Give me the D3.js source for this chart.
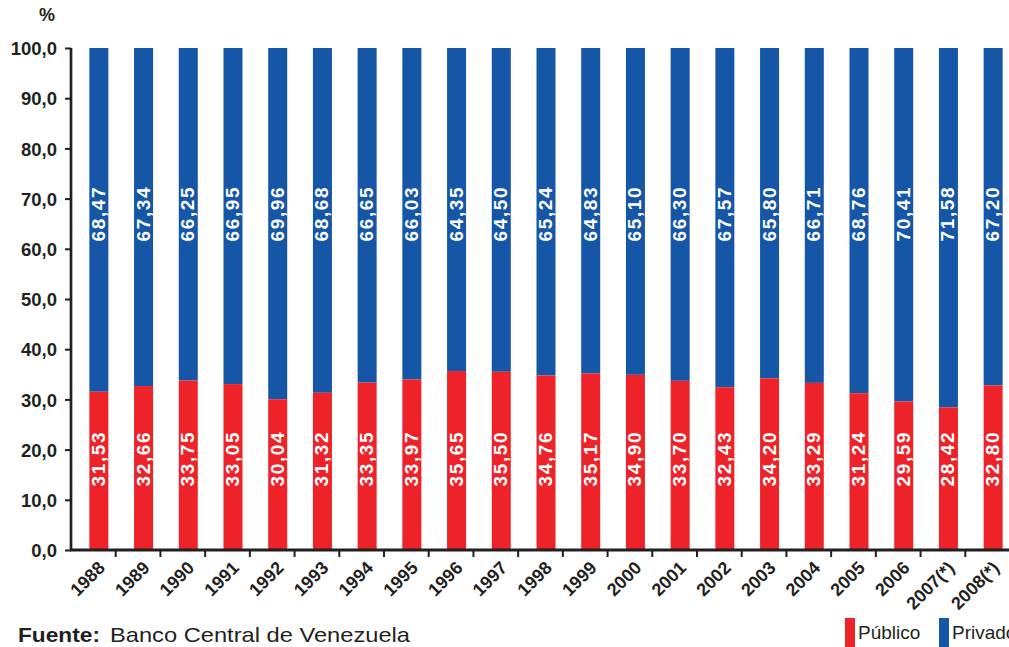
<!DOCTYPE html>
<html>
<head>
<meta charset="utf-8">
<script src="https://cdn.jsdelivr.net/npm/d3@7"></script>
<style>
  html, body { margin: 0; padding: 0; background: #fff; }
  svg { display: block; }
  text { font-family: "Liberation Sans", Arial, Helvetica, sans-serif; }
</style>
</head>
<body>
<svg id="chart" width="1009" height="647"></svg>
<script>
const years = ["1988","1989","1990","1991","1992","1993","1994","1995","1996","1997","1998","1999","2000","2001","2002","2003","2004","2005","2006","2007(*)","2008(*)"];
const publico = [31.53,32.66,33.75,33.05,30.04,31.32,33.35,33.97,35.65,35.50,34.76,35.17,34.90,33.70,32.43,34.20,33.29,31.24,29.59,28.42,32.80];
const privado = [68.47,67.34,66.25,66.95,69.96,68.68,66.65,66.03,64.35,64.50,65.24,64.83,65.10,66.30,67.57,65.80,66.71,68.76,70.41,71.58,67.20];
const yTicks = [0,10,20,30,40,50,60,70,80,90,100];
const seriesNames = ["Público","Privado"];
const colors = ["#ee2229","#1556a6"];

const svg = d3.select("#chart");
const axisColor = "#231f20";
const fmt = v => v.toFixed(2).replace(".", ",");
const fmtTick = v => v.toFixed(1).replace(".", ",");

const x = d3.scaleBand().domain(years).range([71, 1010]).padding(0);
const y = d3.scaleLinear().domain([0, 100]).range([550, 48]);

const barW = 19;
const barOffset = 5.5; // bars sit slightly right of band centre
const barX = d => x(d) + x.bandwidth() / 2 + barOffset - barW / 2;

const data = years.map((yr, i) => ({ yr, pub: publico[i], pri: privado[i] }));

// bars: Privado (blue) stacked on Público (red)
svg.append("g").selectAll("rect").data(data).join("rect")
  .attr("x", d => barX(d.yr)).attr("width", barW)
  .attr("y", d => y(d.pub + d.pri)).attr("height", d => y(d.pub) - y(d.pub + d.pri))
  .attr("fill", colors[1]);
svg.append("g").selectAll("rect").data(data).join("rect")
  .attr("x", d => barX(d.yr)).attr("width", barW)
  .attr("y", d => y(d.pub)).attr("height", d => y(0) - y(d.pub))
  .attr("fill", colors[0]);

// value labels inside bars
const labelStyle = sel => sel
  .attr("text-anchor", "middle").attr("dominant-baseline", "central")
  .attr("fill", "#fff").attr("font-weight", "bold")
  .attr("font-size", 19).attr("letter-spacing", 1.6);
svg.append("g").selectAll("text").data(data).join("text")
  .attr("transform", d => `translate(${barX(d.yr) + barW / 2 - 0.5},${y(67)}) rotate(-90)`)
  .text(d => fmt(d.pri)).call(labelStyle);
svg.append("g").selectAll("text").data(data).join("text")
  .attr("transform", d => `translate(${barX(d.yr) + barW / 2 - 0.5},${y(18.2)}) rotate(-90)`)
  .text(d => fmt(d.pub)).call(labelStyle);

// y axis
const yAxis = svg.append("g").attr("transform", "translate(71,0)")
  .call(d3.axisLeft(y).tickValues(yTicks).tickFormat(fmtTick).tickSize(6).tickPadding(8));
yAxis.select(".domain").attr("stroke", axisColor).attr("stroke-width", 2.7)
  .attr("d", `M0,${y(100)}V${y(0)}`);
yAxis.selectAll(".tick line").attr("stroke", axisColor).attr("stroke-width", 2);
yAxis.selectAll(".tick text").attr("fill", axisColor).attr("font-size", 18.5)
  .attr("font-weight", "bold").attr("font-family", "'Liberation Sans', Arial, sans-serif")
  .attr("dy", "0.36em").attr("x", -14);

// x axis
const xAxis = svg.append("g").attr("transform", `translate(0,${y(0)})`)
  .call(d3.axisBottom(x).tickSize(0).tickFormat(""));
xAxis.select(".domain").attr("stroke", axisColor).attr("stroke-width", 3)
  .attr("d", `M70,0H1009`);
// tick marks at band boundaries
svg.append("g").selectAll("line").data(years.slice(1)).join("line")
  .attr("x1", d => x(d)).attr("x2", d => x(d))
  .attr("y1", y(0)).attr("y2", y(0) + 7)
  .attr("stroke", axisColor).attr("stroke-width", 2);
// rotated category labels
svg.append("g").selectAll("text").data(years).join("text")
  .attr("transform", d => `translate(${x(d) + 35},${y(0) + 19}) rotate(-45)`)
  .attr("text-anchor", "end").attr("fill", axisColor)
  .attr("font-size", 18).attr("font-weight", "bold")
  .text(d => d);

// unit label
svg.append("text").attr("x", 47).attr("y", 21).attr("text-anchor", "middle")
  .attr("fill", axisColor).attr("font-size", 18).attr("font-weight", "bold").text("%");

// source
svg.append("text").attr("x", 18).attr("y", 642).attr("fill", axisColor)
  .attr("font-size", 21).attr("font-weight", "bold")
  .attr("textLength", 82).attr("lengthAdjust", "spacingAndGlyphs").text("Fuente:");
svg.append("text").attr("x", 110).attr("y", 642).attr("fill", axisColor)
  .attr("font-size", 21)
  .attr("textLength", 300).attr("lengthAdjust", "spacingAndGlyphs").text("Banco Central de Venezuela");

// legend
const legX = [845, 939];
const leg = svg.append("g").selectAll("g").data(seriesNames).join("g")
  .attr("transform", (d, i) => `translate(${legX[i]},618)`);
leg.append("rect").attr("width", 10).attr("height", 29).attr("fill", (d, i) => colors[i]);
leg.append("text").attr("x", 13).attr("y", 21).attr("fill", axisColor)
  .attr("font-size", 19).text(d => d);
</script>
</body>
</html>
